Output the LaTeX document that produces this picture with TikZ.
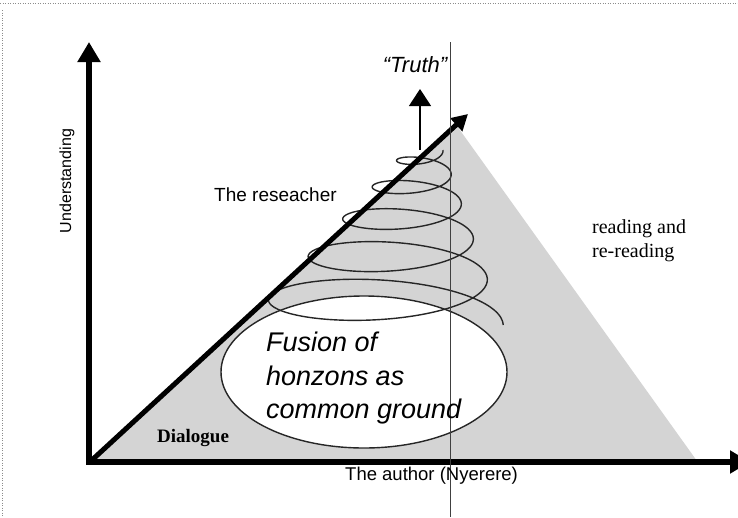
\documentclass[tikz,border=0pt]{standalone}
\usepackage{fontspec}
\setmainfont{Liberation Serif}
\setsansfont{Liberation Sans}
\usetikzlibrary{arrows.meta}
\begin{document}
\begin{tikzpicture}[x=1pt,y=-1pt,
  declare function={gg(\s)=0.6*\s/1800+0.4*(\s/1800)^2;},
  axisarrow/.style={line width=5.5pt,-{Triangle[width=22pt,length=20pt]}},
  diagarrow/.style={line width=5pt,-{Triangle[width=17pt,length=16pt]}},
  thinarrow/.style={line width=1.2pt,-{Triangle[width=22pt,length=17pt]}},
  helixline/.style={line width=1.4pt,black!85},
  sanstext/.style={font=\sffamily\fontsize{#1}{#1}\selectfont,inner sep=0pt},
  seriftext/.style={font=\rmfamily\fontsize{#1}{#1}\selectfont,inner sep=0pt},
  boldserif/.style={font=\rmfamily\bfseries\fontsize{#1}{#1}\selectfont,inner sep=0pt},
  fusiontext/.style={font=\sffamily\itshape\fontsize{27}{27}\selectfont,inner sep=0pt,anchor=base west}]
\useasboundingbox (0,0) rectangle (738,517);
% scan border traces
\draw[black!45,line width=0.5pt,dotted] (0,3) -- (738,3);
\draw[black!45,line width=0.5pt,dotted] (2,10) -- (2,517);
% key points
\coordinate (O) at (89,462);
\coordinate (ytip) at (89,42);
\coordinate (xtip) at (750,462);
\coordinate (dstart) at (92,460);
\coordinate (dtip) at (468,114);
\coordinate (apex) at (457,126);
\coordinate (rb) at (697,461);
\coordinate (tbase) at (420,150);
\coordinate (ttip) at (420,89);
\coordinate (vtop) at (450,42);
\coordinate (vbot) at (450,517);
% stippled region
\fill[black!17] (dstart) -- (apex) -- (rb) -- cycle;
% fusion ellipse
\path[fill=white,draw=black!85,line width=1.4pt] (364,372) ellipse [x radius=143pt,y radius=76pt];
% spiral
\draw[helixline] plot[smooth,domain=0:1800,samples=361,variable=\t]
  ({425-50*gg(\t)+(18+110.25*gg(\t))*cos(\t)},{150+175*gg(\t)+(7+28*gg(\t))*sin(\t)});
% axes and arrows
\begin{scope}
\clip (0,0) rectangle (738,517);
\draw[axisarrow] (O) -- (ytip);
\draw[axisarrow] (86,462) -- (xtip);
\end{scope}
\draw[diagarrow] (dstart) -- (dtip);
\draw[thinarrow] (tbase) -- (ttip);
\draw[black!75,line width=1pt] (vtop) -- (vbot);
% texts
\node[sanstext=16,rotate=90] (under) at (67,181) {Understanding};
\node[sanstext=19,anchor=base west] (res) at (214,201) {The reseacher};
\node[sanstext=22,anchor=base] (truth) at (415,72) {\itshape “Truth”};
\node[fusiontext] (fus1) at (266,351) {Fusion of};
\node[fusiontext] (fus2) at (266,385) {honzons as};
\node[fusiontext] (fus3) at (266,418) {common ground};
\node[seriftext=20,anchor=base west] (read1) at (592,233) {reading and};
\node[seriftext=20,anchor=base west] (read2) at (592,257) {re-reading};
\node[boldserif=19,anchor=base west] (dial) at (157,442) {Dialogue};
\node[sanstext=18.5,anchor=base west] (author) at (345,480) {The author (Nyerere)};
\end{tikzpicture}
\end{document}
